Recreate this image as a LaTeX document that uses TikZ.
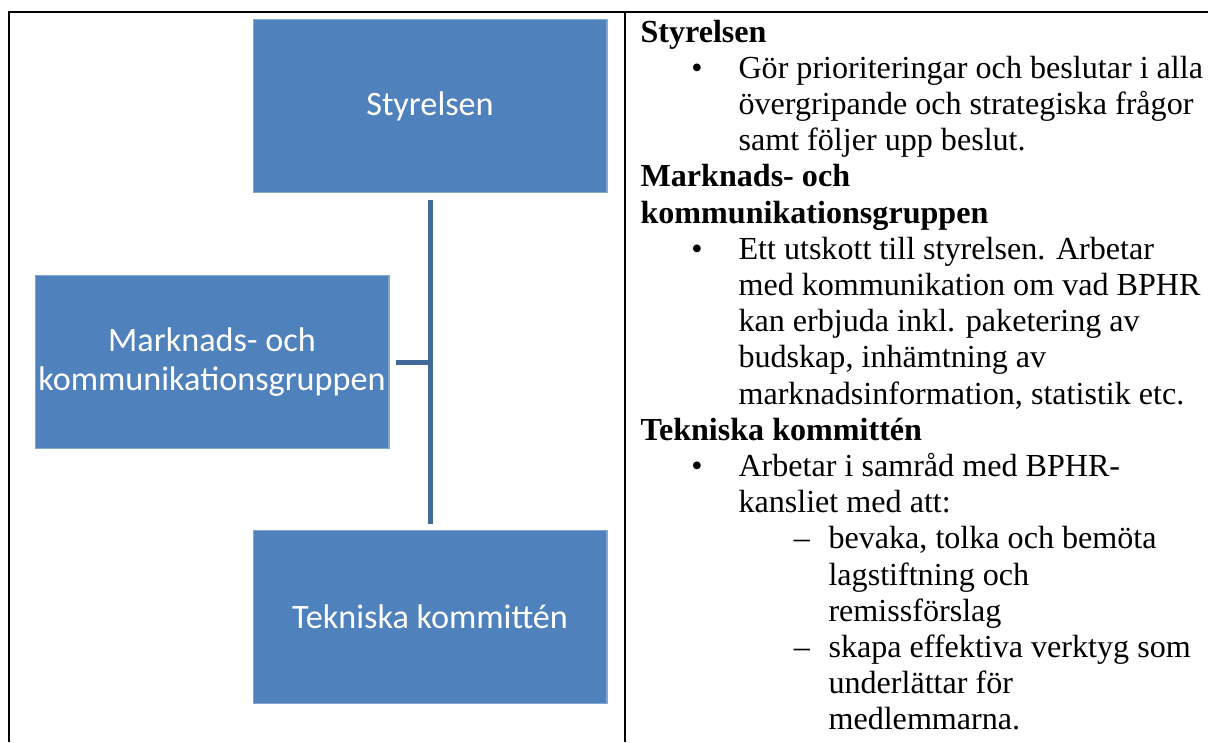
\documentclass[tikz,border=0pt]{standalone}
\usepackage{fontspec}
\setmainfont{Liberation Serif}
\newfontfamily\boxfont{Carlito}
\usetikzlibrary{positioning}

\definecolor{boxblue}{HTML}{4F81BD}
\definecolor{linjeblue}{HTML}{41699C}

\tikzset{
  orgbox/.style={fill=boxblue, draw=boxblue!70!white, line width=0.4pt,
    inner sep=0pt, minimum width=134.5pt, minimum height=66pt, text=white,
    align=center, font=\boxfont\fontsize{13}{14.5}\selectfont},
  linje/.style={draw=linjeblue, line width=1.9pt},
  rad/.style={anchor=base west, inner sep=0pt, font=\fontsize{12.2}{14}\selectfont},
  ram/.style={line width=1.1pt}
}

\begin{document}
\begin{tikzpicture}[x=0.38pt,y=-0.38pt]
\useasboundingbox (0,0) rectangle (1208,742);

%tabell
\draw[ram] (8,12) -- (1208,12);
\draw[ram] (9,12) -- (9,742);
\draw[ram] (625,12) -- (625,742);

%organisation
\node[orgbox] (styr) at (430,106) {Styrelsen};
\node[orgbox] (mark) at (212,362) {Marknads- och\\kommunikationsgruppen};
\node[orgbox] (tekn) at (430,617) {Tekniska kommittén};

\draw[linje, shorten <=2.7pt, shorten >=2.3pt] (styr.south) -- (tekn.north);
\draw[linje, shorten <=2.3pt] (mark.east) -- (mark.east -| styr.south);

%text till hoger
\foreach \nr/\x/\txt in {
  1/640/{\textbf{Styrelsen}},
  2/738/{Gör prioriteringar och beslutar i alla},
  3/738/{övergripande och strategiska frågor},
  4/738/{samt följer upp beslut.},
  5/640/{\textbf{Marknads- och}},
  6/640/{\textbf{kommunikationsgruppen}},
  7/738/{Ett utskott till styrelsen. Arbetar},
  8/738/{med kommunikation om vad BPHR},
  9/738/{kan erbjuda inkl. paketering av},
  10/738/{budskap, inhämtning av},
  11/738/{marknadsinformation, statistik etc.},
  12/640/{\textbf{Tekniska kommittén}},
  13/738/{Arbetar i samråd med BPHR-},
  14/738/{kansliet med att:},
  15/828/{bevaka, tolka och bemöta},
  16/828/{lagstiftning och},
  17/828/{remissförslag},
  18/828/{skapa effektiva verktyg som},
  19/828/{underlättar för},
  20/828/{medlemmarna.}}
  \node[rad] (rad\nr) at (\x,{42+36.2*(\nr-1)}) {\txt};

\foreach \nr in {2,7,13}
  \node[rad, anchor=base] (punkt\nr) at (697,{42+36.2*(\nr-1)}) {•};
\foreach \nr in {15,18}
  \node[rad, anchor=base] (streck\nr) at (802,{42+36.2*(\nr-1)}) {–};

\end{tikzpicture}
\end{document}
